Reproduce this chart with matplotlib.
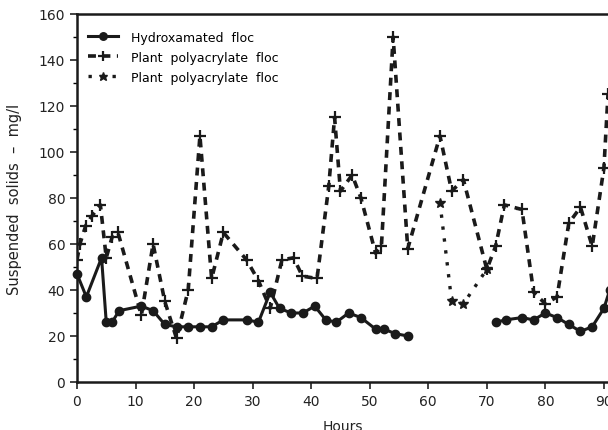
import numpy as np
import matplotlib
matplotlib.use("Agg")
import matplotlib.pyplot as plt
from matplotlib.ticker import MultipleLocator

# Hydroxamated floc (gap between the two runs)
hyd_hours = [0, 1.6, 4.2, 5, 6, 7.2, 11, 13, 15, 17, 19, 21, 23, 25, 29, 31,
             33, 34.6, 36.6, 38.6, 40.6, 42.5, 44.3, 46.4, 48.5, 51, 52.4,
             54.4, 56.5, 64,
             71.6, 73.2, 76, 78, 80, 82, 84, 86, 88, 90, 91]
hyd_ss = [47, 37, 54, 26, 26, 31, 33, 31, 25, 24, 24, 24, 24, 27, 27, 26,
          39, 32, 30, 30, 33, 27, 26, 30, 28, 23, 23,
          21, 20, np.nan,
          26, 27, 28, 27, 30, 28, 25, 22, 24, 32, 40]

# Plant polyacrylate floc
pa_hours = [0, 0.5, 1.5, 2.5, 4, 5, 6, 7, 11, 13, 15, 17, 19, 21, 23, 25,
            29, 31, 33, 35, 37, 38.5, 41, 43, 44, 45, 47, 48.5, 51, 52, 54,
            56.5, 62, 64, 66, 70, 71.5, 73, 76, 78, 80, 82, 84, 86, 88, 90,
            90.7]
pa_ss = [53, 60, 68, 72, 77, 54, 63, 65, 29, 60, 35, 19, 40, 107, 45, 65,
         53, 44, 32, 53, 54, 46, 45, 85, 115, 83, 90, 80, 56, 59, 150,
         58, 107, 83, 88, 49, 59, 77, 75, 39, 34, 37, 69, 76, 59, 93,
         125]

# second plant polyacrylate run
pa2_hours = [62, 64, 66, 70]
pa2_ss = [78, 35, 34, 49]

fig = plt.figure(figsize=(6.08, 4.31), dpi=100)
ax = fig.add_axes([0.1266, 0.1114, 0.8734, 0.8538])

ax.plot(hyd_hours, hyd_ss, color="#1a1a1a", lw=2.2, marker="o", ms=6,
        label="Hydroxamated  floc", clip_on=False)
ax.plot(pa_hours, pa_ss, color="#1a1a1a", lw=2.6, ls=(0, (2.2, 1.8)),
        marker="+", ms=8, mew=1.6, label="Plant  polyacrylate  floc")
ax.plot(pa2_hours, pa2_ss, color="#1a1a1a", lw=2.4, ls=(0, (1, 2.6)),
        marker="*", ms=7, label="Plant  polyacrylate  floc")

ax.set_xlim(0, 90.7)
ax.set_ylim(0, 160)
ax.xaxis.set_major_locator(MultipleLocator(10))
ax.yaxis.set_major_locator(MultipleLocator(20))
ax.yaxis.set_minor_locator(MultipleLocator(10))
ax.tick_params(axis="both", which="major", direction="out", length=5,
               width=1.2, labelsize=10, colors="#222222")
ax.tick_params(axis="y", which="minor", direction="out", length=3, width=1)
ax.spines["right"].set_visible(False)
for s in ("left", "bottom", "top"):
    ax.spines[s].set_linewidth(1.8)
    ax.spines[s].set_color("#1a1a1a")

ax.set_xlabel("Hours", fontsize=10, labelpad=8, color="#222222")
ax.set_ylabel("Suspended  solids  \u2013  mg/l", fontsize=10.5, labelpad=12,
              color="#222222")

ax.legend(loc="upper left", bbox_to_anchor=(0.0, 0.985), frameon=False,
          fontsize=9, handlelength=2.4, handletextpad=1.0, labelspacing=0.55,
          markerscale=0.9)

fig.savefig("out.png", dpi=100)
